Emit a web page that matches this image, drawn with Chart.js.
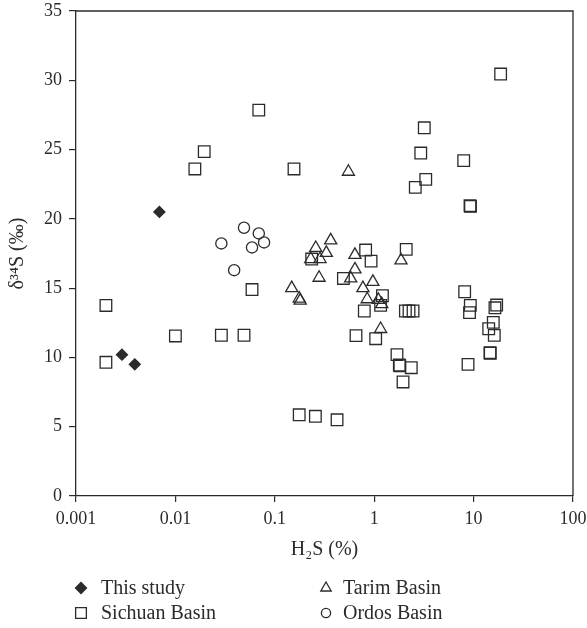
<!DOCTYPE html>
<html>
<head>
<meta charset="utf-8">
<script src="https://cdn.jsdelivr.net/npm/chart.js@4.4.1/dist/chart.umd.min.js"></script>
<style>
  body { margin: 0; background: #fff; }
  #wrap { width: 587px; height: 628px; }
</style>
</head>
<body>
<div id="wrap"><canvas id="chart" width="587" height="628"></canvas></div>
<script>
// ---------- Data (H2S %, delta34S permil) ----------
const thisStudyH2S = [0.0069, 0.0029, 0.0039];
const thisStudyD34S = [20.5, 10.2, 9.5];

const sichuanH2S = [
  0.002, 0.002, 0.01, 0.029, 0.049, 0.059, 0.176, 0.256, 0.423,
  0.0157, 0.0195, 0.069, 0.156, 18.7, 3.19, 2.94, 7.95, 3.3, 2.59,
  9.2, 9.3, 0.82, 2.1, 0.235, 0.93, 0.49, 0.795, 1.21, 1.16,
  2.06, 2.24, 2.46, 0.656, 1.035, 1.695, 1.79, 1.81, 2.36, 1.95,
  8.13, 9.27, 9.1, 17.06, 16.4, 15.78, 14.19, 16.15, 14.62, 14.7, 8.79
];
const sichuanD34S = [
  13.75, 9.65, 11.55, 11.6, 11.6, 14.9, 5.86, 5.75, 5.5,
  23.6, 24.85, 27.85, 23.6, 30.45, 26.57, 24.75, 24.2, 22.85, 22.27,
  20.95, 20.9, 17.75, 17.8, 17.1, 16.95, 15.7, 13.35, 14.45, 13.76,
  13.35, 13.35, 13.35, 11.57, 11.35, 10.2, 9.45, 9.4, 9.26, 8.23,
  14.74, 13.76, 13.23, 13.78, 13.58, 12.53, 12.07, 11.59, 10.34, 10.3, 9.5
];

const tarimH2S = [
  0.55, 0.148, 0.176, 0.18, 0.258, 0.23, 0.285, 0.279, 0.365, 0.33,
  0.64, 0.64, 0.58, 0.97, 0.77, 0.85, 1.1, 1.19, 1.16, 1.86
];
const tarimD34S = [
  23.4, 15.0, 14.25, 14.1, 17.9, 17.1, 17.1, 15.75, 18.45, 17.55,
  17.4, 16.35, 15.7, 15.45, 15.0, 14.2, 14.15, 13.85, 12.05, 17.0
];

const ordosH2S = [0.049, 0.069, 0.029, 0.078, 0.059, 0.039];
const ordosD34S = [19.36, 18.95, 18.23, 18.3, 17.94, 16.3];

const xTicks = [0.001, 0.01, 0.1, 1, 10, 100];
const xTickLabels = ["0.001", "0.01", "0.1", "1", "10", "100"];
const seriesNames = ["This study", "Sichuan Basin", "Tarim Basin", "Ordos Basin"];

// ---------- Helpers ----------
const INK = "#2b2b2b";
const FONT = "'Liberation Serif', 'DejaVu Serif', serif";

function pts(xs, ys) {
  return xs.map((x, i) => ({ x: x, y: ys[i] }));
}

const styles = [
  { pointStyle: "rectRot", radius: 5.5, fill: INK },
  { pointStyle: "rect", radius: 8.2, fill: "rgba(0,0,0,0)" },
  { pointStyle: "triangle", radius: 7, fill: "rgba(0,0,0,0)" },
  { pointStyle: "circle", radius: 5.6, fill: "rgba(0,0,0,0)" }
];

const seriesData = [
  pts(thisStudyH2S, thisStudyD34S),
  pts(sichuanH2S, sichuanD34S),
  pts(tarimH2S, tarimD34S),
  pts(ordosH2S, ordosD34S)
];

// ---------- Plot frame (top + right edges) ----------
const framePlugin = {
  id: "frame",
  beforeDatasetsDraw(chart) {
    const a = chart.chartArea;
    const ctx = chart.ctx;
    ctx.save();
    ctx.strokeStyle = INK;
    ctx.lineWidth = 1.3;
    ctx.beginPath();
    ctx.moveTo(a.left, a.top);
    ctx.lineTo(a.right, a.top);
    ctx.lineTo(a.right, a.bottom);
    ctx.stroke();
    ctx.restore();
  }
};

// ---------- Two-column legend under the plot ----------
const legendPlugin = {
  id: "twoColLegend",
  afterDraw(chart) {
    const ctx = chart.ctx;
    // column/row slots: This study, Sichuan (left) / Tarim, Ordos (right)
    const slots = [[81, 588], [81, 613], [326, 588], [326, 613]];
    const legendRadius = [5.5, 7.6, 6, 4.6];
    ctx.save();
    ctx.font = "20px " + FONT;
    ctx.textBaseline = "middle";
    seriesNames.forEach((name, i) => {
      const [mx, my] = slots[i];
      ctx.fillStyle = styles[i].fill;
      ctx.strokeStyle = INK;
      ctx.lineWidth = 1.3;
      Chart.helpers.drawPoint(ctx, {
        pointStyle: styles[i].pointStyle,
        radius: legendRadius[i],
        rotation: 0,
        borderWidth: 1.3
      }, mx, my);
      ctx.fillStyle = INK;
      ctx.fillText(name, mx + (i < 2 ? 20 : 17), my + 1);
    });
    ctx.restore();
  }
};

// ---------- Chart ----------
new Chart(document.getElementById("chart").getContext("2d"), {
  type: "scatter",
  data: {
    datasets: seriesData.map((d, i) => ({
      label: seriesNames[i],
      data: d,
      pointStyle: styles[i].pointStyle,
      pointRadius: styles[i].radius,
      pointHoverRadius: styles[i].radius,
      pointBackgroundColor: styles[i].fill,
      pointBorderColor: INK,
      pointBorderWidth: 1.3
    }))
  },
  options: {
    responsive: false,
    animation: false,
    events: [],
    layout: { padding: { top: 11, right: 14, bottom: 66, left: 0 } },
    plugins: { legend: { display: false }, tooltip: { enabled: false } },
    scales: {
      x: {
        type: "logarithmic",
        min: 0.001,
        max: 100,
        afterBuildTicks: (s) => { s.ticks = xTicks.map((v) => ({ value: v })); },
        afterFit: (s) => { s.height = 66; s.paddingLeft = 0; s.paddingRight = 0; },
        ticks: {
          autoSkip: false,
          maxRotation: 0,
          padding: 6,
          color: INK,
          font: { family: FONT, size: 18 },
          callback: (v, i) => xTickLabels[i]
        },
        grid: { drawOnChartArea: false, drawTicks: true, tickLength: 6, color: INK, lineWidth: 1.2 },
        border: { display: true, color: INK, width: 1.3 },
        title: {
          display: true,
          text: "H₂S (%)",
          color: INK,
          font: { family: FONT, size: 20 },
          padding: { top: 0, bottom: 0 }
        }
      },
      y: {
        min: 0,
        max: 35,
        afterFit: (s) => { s.width = 76; s.paddingTop = 0; s.paddingBottom = 0; },
        ticks: {
          stepSize: 5,
          padding: 7,
          color: INK,
          font: { family: FONT, size: 18 }
        },
        grid: { drawOnChartArea: false, drawTicks: true, tickLength: 7, color: INK, lineWidth: 1.2 },
        border: { display: true, color: INK, width: 1.3 },
        title: {
          display: true,
          text: "δ³⁴S (‰)",
          color: INK,
          font: { family: FONT, size: 20 },
          padding: { top: 6, bottom: 0 }
        }
      }
    }
  },
  plugins: [framePlugin, legendPlugin]
});
</script>
</body>
</html>
